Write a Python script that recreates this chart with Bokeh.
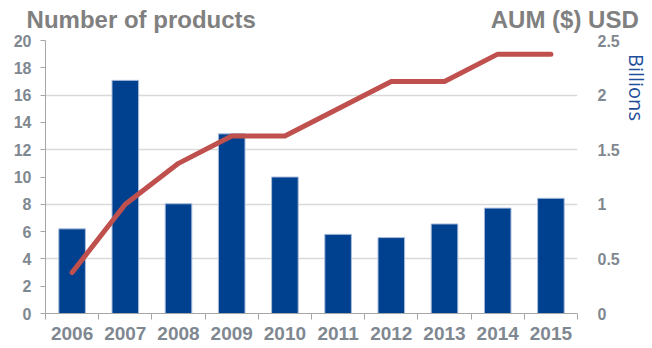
from bokeh.plotting import figure
from bokeh.models import (Range1d, LinearAxis, FixedTicker, ColumnDataSource,
                          CustomJSTickFormatter, NumeralTickFormatter, AllLabels)
from bokeh.embed import file_html
from bokeh.resources import INLINE

years = ["2006", "2007", "2008", "2009", "2010", "2011", "2012", "2013", "2014", "2015"]
aum_billions = [0.775, 2.135, 1.005, 1.645, 1.25, 0.725, 0.695, 0.82, 0.965, 1.055]
num_products = [3, 8, 11, 13, 13, 15, 17, 17, 19, 19]
left_ticks = [0, 2, 4, 6, 8, 10, 12, 14, 16, 18, 20]
left_grid = [0, 4, 8, 12, 16, 20]
right_ticks = [0, 0.5, 1, 1.5, 2, 2.5]
header_texts = ["Number of products", "AUM ($) USD"]
unit_text = ["Billions"]

n = len(years)
centers = [i + 0.5 for i in range(n)]
bounds = [i for i in range(n + 1)]
src = ColumnDataSource(dict(x=centers, aum=aum_billions, prod=num_products))

FONT = "Liberation Sans"
TICK_COL = "#7f8891"
AXIS_COL = "#a6a6a6"

p = figure(width=652, height=348, x_range=Range1d(0, n), y_range=Range1d(0, 20),
           output_backend="svg", toolbar_location=None,
           min_border_left=45, min_border_right=75, min_border_top=40, min_border_bottom=35,
           outline_line_color=None, background_fill_color="white", border_fill_color="white")
p.extra_y_ranges = {"aum": Range1d(0, 2.5)}

p.vbar(x="x", top="aum", width=0.5, bottom=0, y_range_name="aum", source=src,
       fill_color="#00418f", line_color="#a9bcdc", line_width=1)
p.line(x="x", y="prod", source=src, line_color="#c0504d", line_width=5, line_cap="round",
       line_join="round")

# left axis
ya = p.yaxis[0]
ya.ticker = FixedTicker(ticks=left_ticks)
ya.major_tick_out = 5
ya.major_tick_in = 0
ya.minor_tick_line_color = None
ya.axis_line_color = AXIS_COL
ya.major_tick_line_color = AXIS_COL
ya.major_label_text_font = FONT
ya.major_label_text_font_style = "bold"
ya.major_label_text_font_size = "16px"
ya.major_label_text_color = TICK_COL
ya.major_label_standoff = 9

p.ygrid[0].ticker = FixedTicker(ticks=left_grid)
p.ygrid[0].grid_line_color = "#d9d9d9"
p.ygrid[0].grid_line_width = 1.5
p.xgrid.visible = False

# bottom axis
xa = p.xaxis[0]
xa.ticker = FixedTicker(ticks=centers, minor_ticks=bounds)
xa.formatter = CustomJSTickFormatter(args=dict(labels=years),
                                     code="return labels[Math.floor(tick)] || '';")
xa.major_tick_in = 0
xa.major_tick_out = 0
xa.minor_tick_in = 0
xa.minor_tick_out = 6
xa.minor_tick_line_color = AXIS_COL
xa.axis_line_color = AXIS_COL
xa.major_label_text_font = FONT
xa.major_label_text_font_style = "bold"
xa.major_label_text_font_size = "19px"
xa.major_label_text_color = TICK_COL
xa.major_label_standoff = 7

# right axis
ra = LinearAxis(y_range_name="aum", ticker=FixedTicker(ticks=right_ticks),
                formatter=NumeralTickFormatter(format="0.[0]"))
ra.axis_line_color = None
ra.major_tick_line_color = None
ra.minor_tick_line_color = None
ra.major_label_text_font = FONT
ra.major_label_text_font_style = "bold"
ra.major_label_text_font_size = "16px"
ra.major_label_text_color = TICK_COL
ra.major_label_standoff = 14
p.add_layout(ra, "right")

# unit text ("Billions") placed near the top of the right side
unit_pos = [2.07]
ua = LinearAxis(y_range_name="aum", ticker=FixedTicker(ticks=unit_pos),
                formatter=CustomJSTickFormatter(args=dict(labels=unit_text),
                                                code="return labels[index];"))
ua.axis_line_color = None
ua.major_tick_line_color = None
ua.minor_tick_line_color = None
ua.major_label_policy = AllLabels()
ua.major_label_orientation = "vertical"
ua.major_label_text_font = "Open Sans"
ua.major_label_text_font_size = "20px"
ua.major_label_text_color = "#1f4e9a"
ua.major_label_standoff = -6
p.add_layout(ua, "right")

# header texts as labels of a line-less axis above the plot
header_pos = [1.8, 9.76]
ha = LinearAxis(ticker=FixedTicker(ticks=header_pos),
                formatter=CustomJSTickFormatter(args=dict(labels=header_texts),
                                                code="return labels[index];"))
ha.axis_line_color = None
ha.major_tick_line_color = None
ha.minor_tick_line_color = None
ha.major_label_policy = AllLabels()
ha.major_label_text_font = FONT
ha.major_label_text_font_style = "bold"
ha.major_label_text_font_size = "24px"
ha.major_label_text_color = "#808080"
ha.major_label_standoff = 2
p.add_layout(ha, "above")

open("out.html", "w").write(file_html(p, INLINE))
